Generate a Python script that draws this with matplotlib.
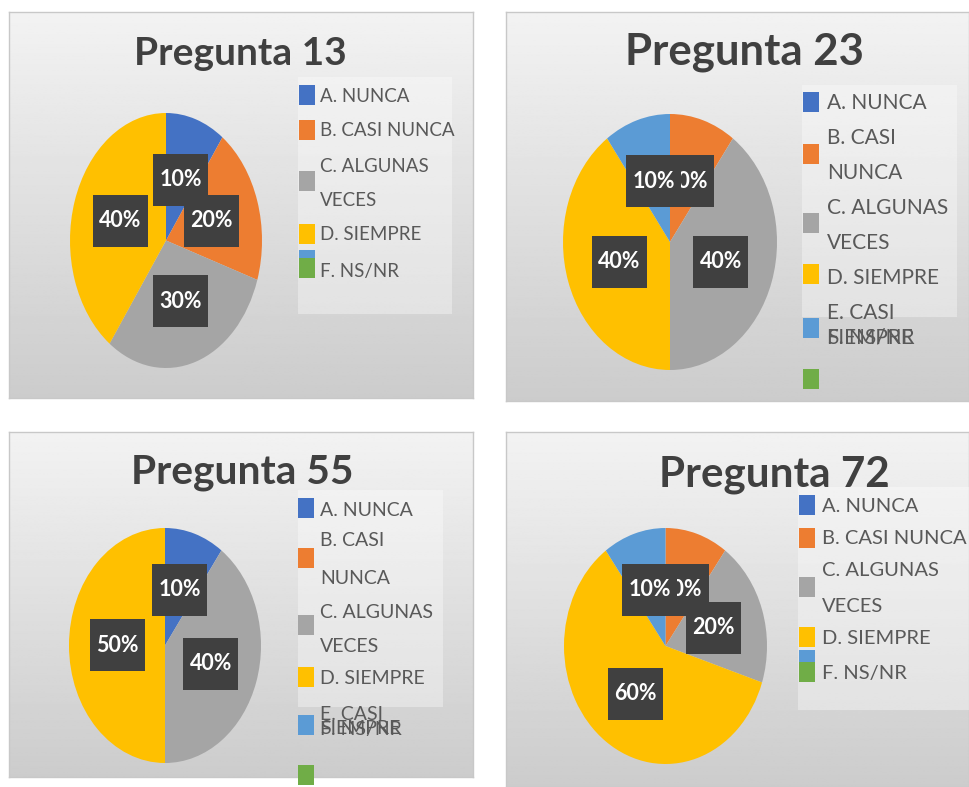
import numpy as np
import matplotlib
matplotlib.use('Agg')
import matplotlib.pyplot as plt
from matplotlib.patches import Rectangle

plt.rcParams['font.family'] = ['Lato', 'DejaVu Sans']

# Data
categories = ['A. NUNCA', 'B. CASI NUNCA', 'C. ALGUNAS VECES', 'D. SIEMPRE',
              'E. CASI SIEMPRE', 'F. NS/NR']
colors = ['#4472C4', '#ED7D31', '#A5A5A5', '#FFC000', '#5B9BD5', '#70AD47']
titles = ['Pregunta 13', 'Pregunta 23', 'Pregunta 55', 'Pregunta 72']
p13 = [10, 20, 30, 40, 0, 0]
p23 = [0, 10, 40, 40, 10, 0]
p55 = [10, 0, 40, 50, 0, 0]
p72 = [0, 10, 20, 60, 10, 0]
all_values = [p13, p23, p55, p72]

W, H = 969, 787
fig = plt.figure(figsize=(W / 100, H / 100), dpi=100)


def box(x0, y0, x1, y1):
    # pixel box (top-left origin) -> figure rect
    return [x0 / W, 1 - y1 / H, (x1 - x0) / W, (y1 - y0) / H]


# Layout of each panel (pixels)
panels = [(9, 12, 473, 398), (506, 12, 969, 401), (9, 432, 473, 777), (506, 432, 969, 787)]
pies = [(70, 113, 262, 368), (563, 114, 777, 370), (69, 528, 261, 763), (564, 528, 767, 764)]
title_pos = [(240, 65), (744, 64), (242, 484), (774, 486)]
title_size = [28, 31.5, 29.3, 30.3]
legend_size = [13.5, 15, 14, 14.5]
legend_box = [(298, 77, 452, 314), (802, 85, 957, 317), (298, 490, 443, 707), (798, 487, 969, 710)]
legend_x = [(299, 320), (803, 827), (298, 320), (799, 822)]
# rows: category index, square center y, y of each text line
legend_rows = [
    [(0, 95, [96]), (1, 130, [131]), (2, 181, [166, 201]), (3, 234, [235]),
     (4, 260, []), (5, 268, [271])],
    [(0, 102, [103]), (1, 154, [138, 173]), (2, 223, [208, 243]), (3, 274, [278]),
     (4, 328, [313, 338]), (5, 379, [338])],
    [(0, 508, [511]), (1, 558, [541, 578]), (2, 625, [613, 646]), (3, 677, [678]),
     (4, 725, [714, 729]), (5, 775, [729])],
    [(0, 505, [506]), (1, 538, [539]), (2, 587, [571, 606]), (3, 637, [638]),
     (4, 660, []), (5, 672, [673])],
]
wrap_all = [False, True, True, False]


def split_label(label, wrap):
    words = label.split(' ')
    if len(words) > 2 and (wrap or label.startswith('C.')):
        return [' '.join(words[:2]), ' '.join(words[2:])]
    return [label]


grad = np.linspace(0.95, 0.80, 256).reshape(-1, 1)

for k in range(4):
    # panel background
    bg = fig.add_axes(box(*panels[k]))
    bg.imshow(grad, cmap='gray', vmin=0, vmax=1, aspect='auto', extent=[0, 1, 0, 1])
    bg.set_xticks([])
    bg.set_yticks([])
    for s in bg.spines.values():
        s.set_color('#c8c8c8')
        s.set_linewidth(1)

    # title
    tx, ty = title_pos[k]
    fig.text(tx / W, 1 - ty / H, titles[k], ha='center', va='baseline',
             fontsize=title_size[k], fontweight='bold', color='#404040')

    # pie
    px0, py0, px1, py1 = pies[k]
    ax = fig.add_axes(box(px0, py0, px1, py1))
    wedges, texts, autotexts = ax.pie(
        all_values[k], colors=colors, startangle=90, counterclock=False,
        autopct=lambda p: f'{p:.0f}%' if p > 0.5 else '', pctdistance=0.5,
        wedgeprops=dict(linewidth=0))
    ax.set_aspect('auto')
    ax.set_xlim(-1, 1)
    ax.set_ylim(-1, 1)
    ax.axis('off')
    bw = 55 * 2 / (px1 - px0)
    bh = 52 * 2 / (py1 - py0)
    n = 0
    for at in autotexts:
        if at.get_text() == '':
            continue
        x, y = at.get_position()
        ax.add_patch(Rectangle((x - bw / 2, y - bh / 2), bw, bh, facecolor='#404040',
                               edgecolor='none', zorder=10 + 2 * n, clip_on=False))
        at.set(color='white', fontsize=15.5, fontweight='bold', zorder=11 + 2 * n,
               ha='center', va='center')
        n += 1

    # legend
    lx0, ly0, lx1, ly1 = legend_box[k]
    fig.patches.append(Rectangle((lx0 / W, 1 - ly1 / H), (lx1 - lx0) / W, (ly1 - ly0) / H,
                                 transform=fig.transFigure, facecolor='white', alpha=0.35,
                                 edgecolor='none', zorder=5))
    sx, txx = legend_x[k]
    for idx, sq_y, line_ys in legend_rows[k]:
        fig.patches.append(Rectangle((sx / W, 1 - (sq_y + 10) / H), 16 / W, 20 / H,
                                     transform=fig.transFigure, facecolor=colors[idx],
                                     edgecolor='none', zorder=6))
        lines = split_label(categories[idx], wrap_all[k])
        for line, ly in zip(lines, line_ys):
            fig.text(txx / W, 1 - ly / H, line, ha='left', va='center',
                     fontsize=legend_size[k], color='#595959', zorder=7)

fig.savefig('out.png', dpi=100)
